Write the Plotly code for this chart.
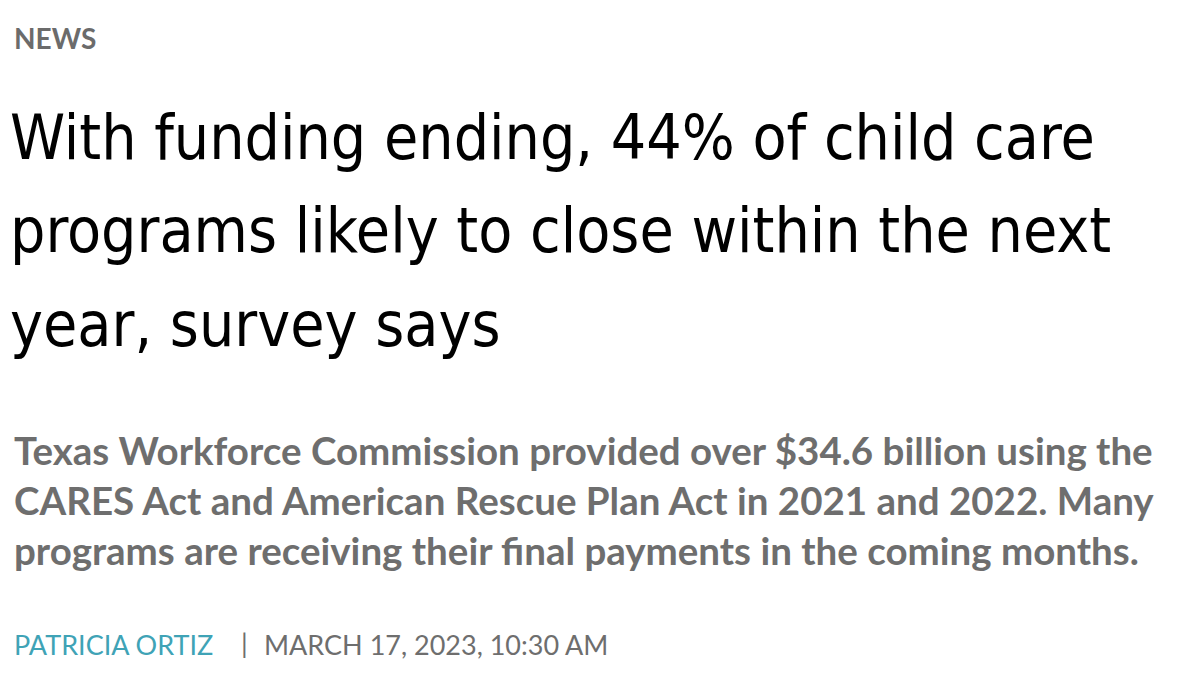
import plotly.graph_objects as go

W, H = 1200, 695
section = "NEWS"
headline_lines = ["With funding ending, 44% of child care",
                  "programs likely to close within the next",
                  "year, survey says"]
subhead_lines = ["Texas Workforce Commission provided over $34.6 billion using the",
                 "CARES Act and American Rescue Plan Act in 2021 and 2022. Many",
                 "programs are receiving their final payments in the coming months."]
author = "PATRICIA ORTIZ"
dateline = "MARCH 17, 2023, 10:30 AM"

fig = go.Figure()
ann = []
def add(text, x, y, size, color, family, bold=False):
    t = f"<b>{text}</b>" if bold else text
    ann.append(dict(text=t, x=x / W, y=1 - y / H, xref="paper", yref="paper",
                    xanchor="left", yanchor="middle", showarrow=False, borderpad=0,
                    font=dict(size=size, color=color, family=family)))

add(section, 5, 30, 28, "#6b6b6b", "Lato", True)
for i, line in enumerate(headline_lines):
    add(line, 1, 130 + i * 93, 62, "#000000",
        "Liberation Sans Narrow, DejaVu Sans Condensed, Roboto")
for i, line in enumerate(subhead_lines):
    add(line, 5, 442 + i * 50, 38.5, "#6e6e6e", "Lato", True)
add(author, 5, 636, 27, "#3fa3b6", "Lato")
add("|", 232, 634, 27, "#6e6e6e", "Lato")
add(dateline, 255, 636, 27, "#6e6e6e", "Lato")

fig.update_layout(width=W, height=H, margin=dict(l=0, r=0, t=0, b=0),
                  paper_bgcolor="white", plot_bgcolor="white",
                  xaxis=dict(visible=False), yaxis=dict(visible=False),
                  annotations=ann)
fig.write_html("out.html")
